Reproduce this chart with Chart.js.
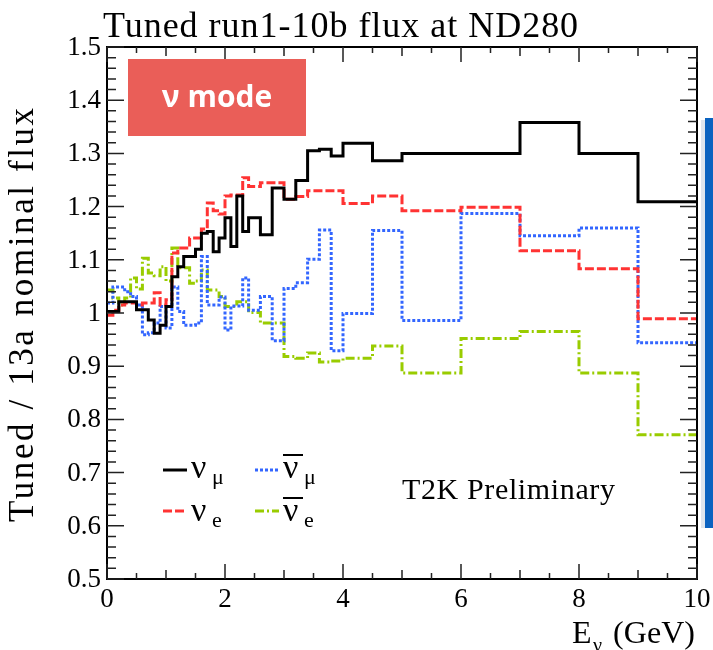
<!DOCTYPE html>
<html>
<head>
<meta charset="utf-8">
<script src="https://cdn.jsdelivr.net/npm/chart.js@4.4.1/dist/chart.umd.min.js"></script>
<style>
  html, body { margin: 0; padding: 0; background: #fff; }
  #wrap { width: 713px; height: 650px; position: relative; }
</style>
</head>
<body>
<div id="wrap"><canvas id="fluxChart" width="713" height="650"></canvas></div>
<script>
// bin edges (GeV)
const binEdges = [0, 0.1, 0.2, 0.3, 0.4, 0.5, 0.6, 0.7, 0.8, 0.9, 1.0, 1.1, 1.2, 1.3, 1.4, 1.5,
  1.6, 1.7, 1.8, 1.9, 2.0, 2.1, 2.2, 2.3, 2.4, 2.6, 2.8, 3.0, 3.2, 3.4, 3.6, 3.8, 4.0, 4.5, 5, 6, 7, 8, 9, 10];

// tuned / nominal ratio per bin
const numu = [1.003, 1.003, 1.021, 1.021, 1.021, 1.006, 1.006, 0.987, 0.962, 0.977,
  1.012, 1.068, 1.087, 1.106, 1.106, 1.120, 1.150, 1.153, 1.115, 1.141,
  1.179, 1.125, 1.220, 1.153, 1.179, 1.147, 1.235, 1.214, 1.249, 1.305,
  1.308, 1.295, 1.319, 1.286, 1.300, 1.300, 1.358, 1.300, 1.209];
const nue = [0.996, 1.005, 1.015, 1.019, 1.019, 1.015, 1.019, 1.019, 1.038, 1.015,
  1.025, 1.113, 1.122, 1.122, 1.141, 1.141, 1.158, 1.207, 1.192, 1.186,
  1.220, 1.222, 1.222, 1.254, 1.238, 1.245, 1.245, 1.214, 1.219, 1.230,
  1.230, 1.230, 1.206, 1.220, 1.192, 1.199, 1.117, 1.083, 0.989];
const numubar = [1.019, 1.049, 1.049, 1.040, 1.031, 1.015, 0.959, 0.963, 0.981, 1.012,
  0.972, 1.049, 1.003, 0.977, 0.977, 0.981, 1.106, 1.015, 1.015, 1.030,
  0.968, 1.013, 1.013, 1.066, 1.005, 1.031, 0.948, 1.046, 1.057, 1.101,
  1.156, 0.929, 0.999, 1.155, 0.986, 1.187, 1.145, 1.160, 0.944];
const nuebar = [1.043, 1.028, 1.015, 1.028, 1.066, 1.045, 1.103, 1.075, 1.070, 1.087,
  1.060, 1.122, 1.085, 1.085, 1.056, 1.060, 1.081, 1.043, 1.043, 1.031,
  1.012, 1.012, 1.021, 1.021, 1.001, 0.981, 0.981, 0.918, 0.915, 0.925,
  0.908, 0.910, 0.915, 0.938, 0.887, 0.952, 0.965, 0.887, 0.771];

const xTickLabels = ['0', '2', '4', '6', '8', '10'];
const yTickLabels = ['0.5', '0.6', '0.7', '0.8', '0.9', '1', '1.1', '1.2', '1.3', '1.4', '1.5'];

const SERIF = "'Liberation Serif', 'DejaVu Serif', serif";

// histogram -> step points (last point repeats last bin at upper edge)
function toSteps(vals) {
  return binEdges.map((e, i) => ({ x: e, y: vals[Math.min(i, vals.length - 1)] }));
}

// draw left-aligned text spread to a given width with letter spacing
function fitText(ctx, text, x, y, width) {
  ctx.save();
  ctx.textAlign = 'left';
  ctx.letterSpacing = '0px';
  const w = ctx.measureText(text).width;
  const sp = (width - w) / Math.max(1, text.length - 1);
  ctx.letterSpacing = sp.toFixed(2) + 'px';
  ctx.fillText(text, x, y);
  ctx.restore();
}

const decorPlugin = {
  id: 'decor',
  afterDraw(chart) {
    const ctx = chart.ctx;
    const xs = chart.scales.x, ys = chart.scales.y;
    const L = xs.left, R = xs.right, T = ys.top, B = ys.bottom;

    ctx.save();
    // frame
    ctx.strokeStyle = '#000';
    ctx.lineWidth = 2;
    ctx.strokeRect(L, T, R - L, B - T);

    // x ticks (inward, bottom and top)
    ctx.lineWidth = 1.5;
    ctx.strokeStyle = '#222';
    for (let i = 0; i <= 20; i++) {
      const v = i * 0.5;
      const px = xs.getPixelForValue(v);
      const len = (i % 4 === 0) ? 15 : (i % 2 === 0 ? 9 : 6);
      ctx.beginPath();
      ctx.moveTo(px, B); ctx.lineTo(px, B - len);
      ctx.moveTo(px, T); ctx.lineTo(px, T + len);
      ctx.stroke();
    }
    // y ticks (inward, left and right)
    for (let i = 0; i <= 50; i++) {
      const v = 0.5 + i * 0.02;
      const py = ys.getPixelForValue(v);
      const len = (i % 5 === 0) ? 17 : 9;
      ctx.beginPath();
      ctx.moveTo(L, py); ctx.lineTo(L + len, py);
      ctx.moveTo(R, py); ctx.lineTo(R - len, py);
      ctx.stroke();
    }

    // tick labels
    ctx.fillStyle = '#000';
    ctx.font = '27px ' + SERIF;
    ctx.textAlign = 'center';
    ctx.textBaseline = 'alphabetic';
    xTickLabels.forEach(t => {
      ctx.fillText(t, xs.getPixelForValue(parseFloat(t)), 607);
    });
    ctx.textAlign = 'right';
    ctx.textBaseline = 'middle';
    yTickLabels.forEach(t => {
      ctx.fillText(t, L - 6, ys.getPixelForValue(parseFloat(t)) + 1);
    });

    // title
    ctx.textAlign = 'left';
    ctx.textBaseline = 'alphabetic';
    ctx.font = '36px ' + SERIF;
    fitText(ctx, 'Tuned run1-10b flux at ND280', 103, 37, 475);

    // y axis title
    ctx.save();
    ctx.translate(33, 522);
    ctx.rotate(-Math.PI / 2);
    ctx.font = '35px ' + SERIF;
    fitText(ctx, 'Tuned / 13a nominal flux', 0, 0, 414);
    ctx.restore();

    // x axis title
    ctx.textAlign = 'left';
    ctx.font = '32px ' + SERIF;
    ctx.fillText('E', 572, 643);
    ctx.font = '20px ' + SERIF;
    ctx.fillText('ν', 593, 652);
    ctx.font = '32px ' + SERIF;
    fitText(ctx, '(GeV)', 613, 643, 82);

    // T2K Preliminary
    ctx.font = '30px ' + SERIF;
    fitText(ctx, 'T2K Preliminary', 402, 499, 213);

    // legend
    const legend = [
      { ds: 0, x: 163, y: 470, base: 478, sub: 'μ', bar: false },
      { ds: 2, x: 255, y: 470, base: 478, sub: 'μ', bar: true },
      { ds: 1, x: 163, y: 511, base: 521, sub: 'e', bar: false },
      { ds: 3, x: 255, y: 511, base: 521, sub: 'e', bar: true }
    ];
    legend.forEach(it => {
      const d = chart.data.datasets[it.ds];
      ctx.save();
      ctx.strokeStyle = d.borderColor;
      ctx.lineWidth = 3;
      ctx.setLineDash(d.borderDash || []);
      ctx.beginPath();
      ctx.moveTo(it.x, it.y); ctx.lineTo(it.x + 24, it.y);
      ctx.stroke();
      ctx.restore();
      ctx.fillStyle = '#000';
      ctx.font = '34px ' + SERIF;
      ctx.fillText('ν', it.x + 28, it.base);
      ctx.font = '22px ' + SERIF;
      ctx.fillText(it.sub, it.x + 49, it.base + 6);
      if (it.bar) {
        ctx.fillRect(it.x + 28, it.base - 24, 20, 2);
      }
    });

    // nu mode badge
    ctx.fillStyle = 'rgb(234, 94, 88)';
    ctx.fillRect(128, 59, 178, 77);
    ctx.fillStyle = '#fff';
    ctx.font = "bold 30px 'Open Sans', 'DejaVu Sans', sans-serif";
    ctx.textAlign = 'center';
    ctx.textBaseline = 'middle';
    ctx.fillText('ν mode', 217, 98);

    // slide panel edge at right
    ctx.fillStyle = '#dfe6ee';
    ctx.fillRect(701, 120, 4, 408);
    ctx.fillStyle = '#0b63c0';
    ctx.fillRect(705, 118, 8, 410);
    ctx.restore();
  }
};

const ctx = document.getElementById('fluxChart').getContext('2d');
const fluxChart = new Chart(ctx, {
  type: 'line',
  data: {
    datasets: [
      { label: 'numu', data: toSteps(numu), borderColor: '#000000', borderWidth: 3 },
      { label: 'nue', data: toSteps(nue), borderColor: 'rgb(255, 51, 51)', borderWidth: 3, borderDash: [9, 3] },
      { label: 'numubar', data: toSteps(numubar), borderColor: 'rgb(51, 102, 255)', borderWidth: 3, borderDash: [3, 2] },
      { label: 'nuebar', data: toSteps(nuebar), borderColor: 'rgb(153, 204, 0)', borderWidth: 3, borderDash: [9, 3, 2, 3] }
    ]
  },
  options: {
    responsive: false,
    animation: false,
    devicePixelRatio: 1,
    layout: { padding: { left: 107, right: 16, top: 47, bottom: 71 } },
    elements: {
      point: { radius: 0 },
      line: { stepped: 'before', tension: 0, fill: false }
    },
    scales: {
      x: { type: 'linear', min: 0, max: 10, display: false },
      y: { type: 'linear', min: 0.5, max: 1.5, display: false }
    },
    plugins: {
      legend: { display: false },
      tooltip: { enabled: false }
    }
  },
  plugins: [decorPlugin]
});
</script>
</body>
</html>
